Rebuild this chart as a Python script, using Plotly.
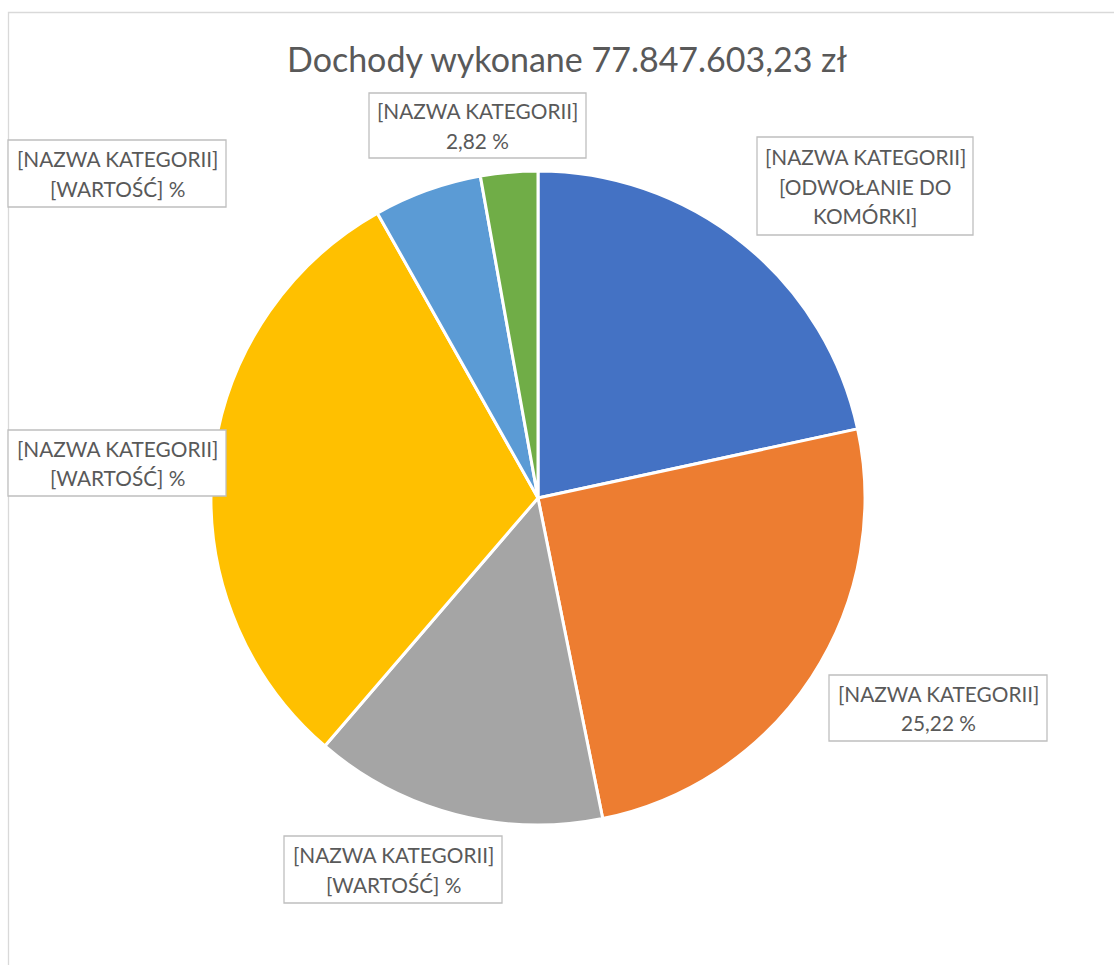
import plotly.graph_objects as go

# ---- data ----
categories = ["Kategoria 1", "Kategoria 2", "Kategoria 3", "Kategoria 4", "Kategoria 5", "Kategoria 6"]
shares = [21.61, 25.22, 14.47, 30.53, 5.35, 2.82]
colors = ["#4472C4", "#ED7D31", "#A5A5A5", "#FFC000", "#5B9BD5", "#70AD47"]
label_lines = [
    ["[NAZWA KATEGORII]", "[ODWOŁANIE DO", "KOMÓRKI]"],
    ["[NAZWA KATEGORII]", "25,22 %"],
    ["[NAZWA KATEGORII]", "[WARTOŚĆ] %"],
    ["[NAZWA KATEGORII]", "[WARTOŚĆ] %"],
    ["[NAZWA KATEGORII]", "[WARTOŚĆ] %"],
    ["[NAZWA KATEGORII]", "2,82 %"],
]
title_text = "Dochody wykonane 77.847.603,23 zł"

# ---- layout constants (pixels in a 1114x965 canvas) ----
W, H = 1114, 965
FONT = "Lato, 'Open Sans', sans-serif"
TXT = "#595959"
# label boxes: (left, top, right, bottom)
boxes = [
    (757, 137, 973, 235),
    (829, 675, 1047, 741),
    (284, 836, 502, 903),
    (8, 430, 226, 496),
    (8, 140, 226, 207),
    (369, 93, 586, 158),
]
LINE_H = 29.5

def px(x):
    return x / W

def py(y):
    return 1 - y / H

fig = go.Figure()
fig.add_trace(go.Pie(
    labels=categories,
    values=shares,
    marker=dict(colors=colors, line=dict(color="white", width=3)),
    sort=False,
    direction="clockwise",
    rotation=0,
    textinfo="none",
    hoverinfo="label+percent",
    domain=dict(x=[px(211), px(865)], y=[py(825), py(171)]),
    showlegend=False,
))

shapes = [dict(type="rect", xref="paper", yref="paper",
               x0=px(8.5), x1=px(W + 20), y0=py(H + 20), y1=py(12.5),
               line=dict(color="#D9D9D9", width=1.3), fillcolor="rgba(0,0,0,0)")]
annotations = []
for lines, (l, t, r, b) in zip(label_lines, boxes):
    shapes.append(dict(type="rect", xref="paper", yref="paper",
                       x0=px(l), x1=px(r), y0=py(b), y1=py(t),
                       line=dict(color="#BFBFBF", width=1.3), fillcolor="white"))
    cx = (l + r) / 2
    cy = (t + b) / 2
    n = len(lines)
    for i, s in enumerate(lines):
        yy = cy + (i - (n - 1) / 2) * LINE_H
        annotations.append(dict(x=px(cx), y=py(yy), xref="paper", yref="paper",
                                text=s, showarrow=False, xanchor="center", yanchor="middle",
                                font=dict(family=FONT, size=20.8, color=TXT)))

fig.update_layout(
    width=W, height=H,
    margin=dict(l=0, r=0, t=0, b=0),
    paper_bgcolor="white", plot_bgcolor="white",
    title=dict(text=title_text, x=px(567), y=py(60), xanchor="center", yanchor="middle",
               font=dict(family=FONT, size=34, color=TXT)),
    shapes=shapes,
    annotations=annotations,
)

fig.write_html("out.html", config={"displayModeBar": False},
               post_script="document.body.style.margin='0';")
